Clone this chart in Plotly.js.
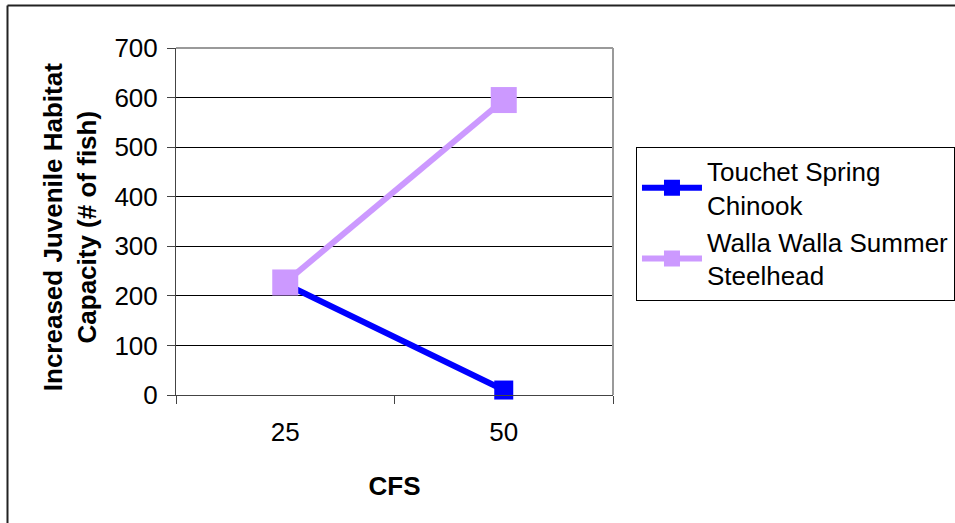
<!DOCTYPE html>
<html>
<head>
<meta charset="utf-8">
<script src="https://cdn.plot.ly/plotly-3.0.1.min.js"></script>
<style>
  html, body { margin: 0; padding: 0; background: #fff; }
  #chart { width: 955px; height: 523px; }
</style>
</head>
<body>
<div id="chart"></div>
<script>
// Flow levels (cubic feet per second)
const flowCategories = ["25", "50"];
// Increased juvenile habitat capacity, number of fish
const touchetSpringChinook = [224, 10];
const wallaWallaSummerSteelhead = [227, 595];
const seriesNames = ["Touchet Spring<br>Chinook", "Walla Walla Summer<br>Steelhead"];
const yTickValues = [0, 100, 200, 300, 400, 500, 600, 700];
const xTitle = "CFS";
const yTitle = "Increased Juvenile Habitat<br>Capacity (# of fish)";

const FONT = "Liberation Sans, Arial, Helvetica, sans-serif";

const traces = [
  {
    x: flowCategories,
    y: touchetSpringChinook,
    name: seriesNames[0],
    type: "scatter",
    mode: "lines+markers",
    line: { color: "#0000FF", width: 6 },
    marker: { color: "#0000FF", symbol: "square", size: 19 },
    cliponaxis: false
  },
  {
    x: flowCategories,
    y: wallaWallaSummerSteelhead,
    name: seriesNames[1],
    type: "scatter",
    mode: "lines+markers",
    line: { color: "#CC99FF", width: 6 },
    marker: { color: "#CC99FF", symbol: "square", size: 26 },
    cliponaxis: false
  }
];

const layout = {
  width: 955,
  height: 523,
  margin: { l: 176, r: 342, t: 47.5, b: 128, autoexpand: false },
  paper_bgcolor: "#ffffff",
  plot_bgcolor: "#ffffff",
  font: { family: FONT, size: 26, color: "#000" },
  showlegend: true,
  legend: {
    x: 1.0526, xanchor: "left",
    y: 0.716, yanchor: "top",
    bgcolor: "#ffffff",
    bordercolor: "#000",
    borderwidth: 1,
    itemwidth: 60,
    font: { family: FONT, size: 26, color: "#000" },
    tracegroupgap: 12
  },
  xaxis: {
    type: "category",
    range: [-0.5, 1.5],
    tickson: "boundaries",
    ticks: "outside",
    ticklen: 8,
    tickcolor: "#444",
    ticklabelstandoff: 14,
    showline: true,
    linecolor: "#444",
    linewidth: 1,
    showgrid: false,
    zeroline: false,
    tickfont: { family: FONT, size: 26, color: "#000" },
    title: { text: "<b>" + xTitle + "</b>", font: { family: FONT, size: 26, color: "#000" }, standoff: 30 },
    fixedrange: true
  },
  yaxis: {
    range: [0, 700],
    tickvals: yTickValues,
    ticks: "outside",
    ticklen: 8,
    tickcolor: "#444",
    ticklabelstandoff: 4,
    showline: true,
    linecolor: "#444",
    linewidth: 1,
    showgrid: true,
    gridcolor: "#000",
    gridwidth: 1,
    zeroline: false,
    tickfont: { family: FONT, size: 26, color: "#000" },
    fixedrange: true
  },
  annotations: [
    // y axis title, two lines, rotated
    { text: "<b>" + yTitle + "</b>", textangle: -90, showarrow: false,
      xref: "paper", yref: "paper", x: -0.2426, y: 0.4835,
      xanchor: "center", yanchor: "middle",
      font: { family: FONT, size: 26, color: "#000" } }
  ],
  shapes: [
    // plot area border, top and right
    { type: "line", xref: "paper", yref: "paper", x0: 0, x1: 1, y0: 1, y1: 1,
      line: { color: "#9a9a9a", width: 2 } },
    { type: "line", xref: "paper", yref: "paper", x0: 1, x1: 1, y0: 0, y1: 1,
      line: { color: "#9a9a9a", width: 2 } },
    // chart frame, left and top edges
    { type: "line", xref: "paper", yref: "paper", x0: -0.3856, x1: -0.3856, y0: -0.4, y1: 1.1223,
      line: { color: "#222", width: 2 }, layer: "below" },
    { type: "line", xref: "paper", yref: "paper", x0: -0.3856, x1: 1.8, y0: 1.1223, y1: 1.1223,
      line: { color: "#222", width: 2 }, layer: "below" }
  ]
};

Plotly.newPlot("chart", traces, layout, { displayModeBar: false, staticPlot: true });
</script>
</body>
</html>
